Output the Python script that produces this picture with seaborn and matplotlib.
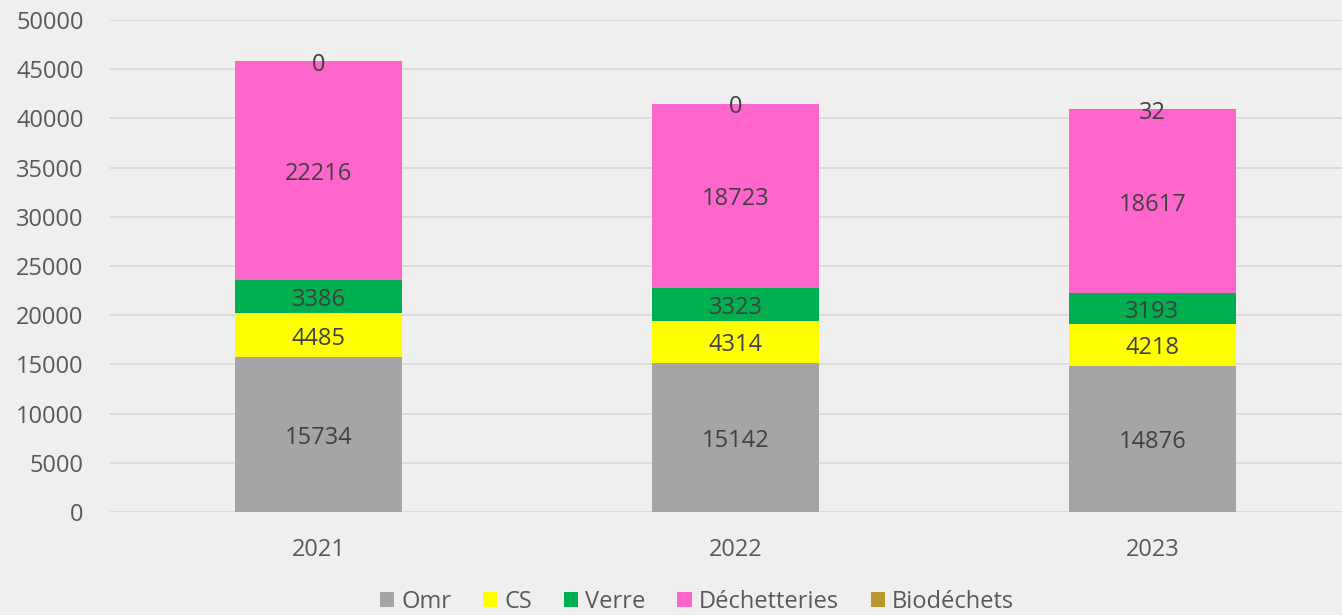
import matplotlib
matplotlib.use("Agg")
import matplotlib.pyplot as plt
from matplotlib.patches import Patch
import seaborn as sns
import pandas as pd
import numpy as np

years = ["2021", "2022", "2023"]
series_names = ["Omr", "CS", "Verre", "Déchetteries", "Biodéchets"]
omr = [15734, 15142, 14876]
cs = [4485, 4314, 4218]
verre = [3386, 3323, 3193]
dechetteries = [22216, 18723, 18617]
biodechets = [0, 0, 32]
colors = ["#a5a5a5", "#ffff00", "#00b050", "#ff66cc", "#b8972f"]
yticks = [0, 5000, 10000, 15000, 20000, 25000, 30000, 35000, 40000, 45000, 50000]

sns.set_theme(style="white")
plt.rcParams["font.family"] = ["Open Sans", "DejaVu Sans"]

bg = "#efefef"
fs = 17
fig = plt.figure(figsize=(13.42, 6.15), dpi=100, facecolor=bg)
ax = fig.add_axes([110 / 1342, 1 - 512 / 615, (1361 - 110) / 1342, 492 / 615])
ax.set_facecolor(bg)

values = [omr, cs, verre, dechetteries, biodechets]
bottom = np.zeros(len(years))
for name, vals, col in zip(series_names, values, colors):
    df = pd.DataFrame({"year": years, "value": vals})
    sns.barplot(data=df, x="year", y="value", color=col, width=0.4,
                bottom=bottom, ax=ax, saturation=1, errorbar=None,
                linewidth=0, zorder=3)
    for i, v in enumerate(vals):
        ax.annotate(f"{v}", (i, bottom[i] + v / 2), xytext=(0, -2.5),
                    textcoords="offset points", ha="center", va="center",
                    fontsize=fs, color="#404040", zorder=5)
    bottom = bottom + np.array(vals)

ax.set_ylim(0, 50000)
ax.set_xlim(-0.5, 2.5)
ax.set_yticks(yticks)
ax.set_yticklabels([str(t) for t in yticks])
ax.grid(axis="y", color="#d9d9d9", linewidth=1.2, zorder=0)
ax.set_axisbelow(True)
for s in ax.spines.values():
    s.set_visible(False)
ax.tick_params(axis="both", length=0, labelsize=fs, labelcolor="#595959")
ax.tick_params(axis="y", pad=19)
ax.tick_params(axis="x", pad=18.5)
ax.set_xlabel("")
ax.set_ylabel("")

handles = [Patch(facecolor=c, edgecolor="none", label=n) for n, c in zip(series_names, colors)]
fig.legend(handles=handles, loc="center", bbox_to_anchor=(697 / 1342, 1 - 602 / 615),
           ncol=5, frameon=False, fontsize=fs, handlelength=0.6, handleheight=0.6,
           handletextpad=0.3, columnspacing=1.35, labelcolor="#595959")

fig.savefig("out.png", dpi=100, facecolor=bg)
